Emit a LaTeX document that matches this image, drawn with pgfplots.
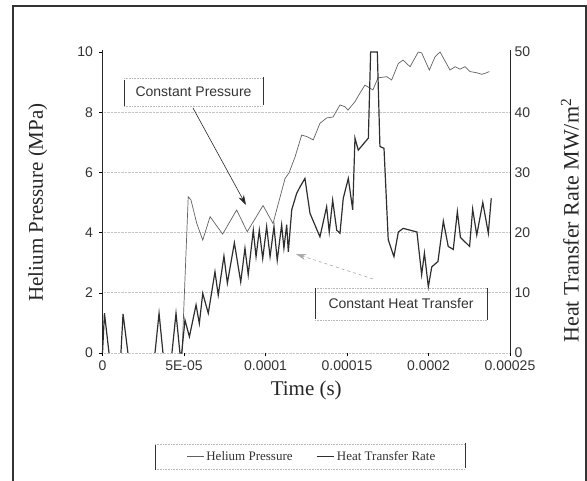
\documentclass[border=0pt]{standalone}
\usepackage{fontspec}
\setmainfont{Liberation Serif}
\newfontfamily\sansf{Liberation Sans}
\usepackage{pgfplots}
\pgfplotsset{compat=1.18}
\usetikzlibrary{arrows.meta}
\definecolor{pcol}{gray}{0.38}
\definecolor{hcol}{gray}{0.18}

\begin{document}
\begin{tikzpicture}[x=1pt,y=1pt]
\useasboundingbox (0,0) rectangle (587,481);
\draw[line width=1.2pt, gray!40!black] (13,475) rectangle (586,-20);
\begin{axis}[at={(102.5pt,128pt)}, anchor=south west, scale only axis,
  width=407.5pt, height=301pt,
  xmin=0, xmax=2.5e-4, ymin=0, ymax=10, clip=false,
  axis line style={draw=none},
  scaled x ticks=false,
  xtick={0,5e-5,1e-4,1.5e-4,2e-4,2.5e-4},
  xticklabels={0,5E-05,0.0001,0.00015,0.0002,0.00025},
  ytick={0,2,4,6,8}, extra y ticks={10}, extra y tick style={grid=none},
  ymajorgrids, grid style={densely dotted, gray!45, line width=0.6pt},
  tick style={black, line width=0.5pt}, major tick length=3pt, tick align=outside,
  xtick pos=bottom, ytick pos=left,
  tick label style={font=\sansf\fontsize{14}{14}\selectfont, text=black!80},
  /pgf/number format/assume math mode=true,
  xticklabel style={yshift=-1pt}, yticklabel style={xshift=-3pt},
  xlabel={Time (s)}, ylabel={Helium Pressure (MPa)},
  label style={font=\fontsize{21}{24}\selectfont, text=black!85},
  xlabel style={at={(axis description cs:0.5,-0.123)}, anchor=center},
  ylabel style={at={(axis description cs:-0.159,0.5)}, anchor=center}]
\draw[black!85, line width=0.9pt] (rel axis cs:0,0) -- (rel axis cs:0,1.005);
\draw[black!85, line width=0.9pt] (rel axis cs:1,0) -- (rel axis cs:1,1.005);
\addplot[pcol, line width=0.7pt] table {
4.88e-5 0
5.26e-5 5.19
5.43e-5 5.08
5.78e-5 4.31
6.15e-5 3.75
6.60e-5 4.53
7.37e-5 3.95
8.23e-5 4.75
8.88e-5 4.03
9.85e-5 4.90
10.46e-5 4.30
11.20e-5 5.80
11.44e-5 5.98
11.81e-5 6.51
12.22e-5 7.24
12.53e-5 7.19
12.93e-5 7.08
13.34e-5 7.63
13.75e-5 7.81
14.14e-5 7.84
14.57e-5 8.24
14.88e-5 8.18
15.06e-5 8.07
15.49e-5 8.35
15.80e-5 8.64
16.10e-5 8.90
16.59e-5 8.74
16.90e-5 9.14
17.44e-5 9.18
17.74e-5 9.07
18.15e-5 9.62
18.44e-5 9.73
18.87e-5 9.51
19.37e-5 10.0
19.58e-5 9.97
20.05e-5 9.40
20.40e-5 9.84
20.71e-5 10.0
21.32e-5 9.40
21.63e-5 9.51
21.93e-5 9.43
22.24e-5 9.51
22.55e-5 9.35
22.96e-5 9.31
23.26e-5 9.26
23.47e-5 9.29
23.73e-5 9.35
};
\end{axis}
\begin{axis}[at={(102.5pt,128pt)}, anchor=south west, scale only axis,
  width=407.5pt, height=301pt,
  xmin=0, xmax=2.5e-4, ymin=0, ymax=50, clip=false,
  unbounded coords=jump,
  axis line style={draw=none}, xtick=\empty,
  ytick={0,10,20,30,40,50}, ytick pos=right, yticklabel pos=right,
  tick style={draw=none},
  tick label style={font=\sansf\fontsize{14}{14}\selectfont, text=black!80},
  /pgf/number format/assume math mode=true,
  yticklabel style={xshift=1pt},
  ylabel={Heat Transfer Rate MW/m\textsuperscript{2}},
  label style={font=\fontsize{22}{25}\selectfont, text=black!85},
  ylabel style={at={(axis description cs:1.147,0.44)}, anchor=center},
  legend style={at={(axis description cs:0.514,-0.345)}, anchor=center, draw=none, fill=none,
    font=\fontsize{13}{15}\selectfont, text=black!80},
  legend columns=2, legend cell align=left,
  /tikz/every even column/.append style={column sep=22pt}]
\addlegendimage{pcol, line width=0.7pt}
\addlegendentry{Helium Pressure}
\addplot[hcol, line width=1.2pt] table {
0 0
0.12e-5 6.6
0.40e-5 0
0.8e-5 nan
1.13e-5 0
1.26e-5 6.5
1.56e-5 0
2.4e-5 nan
3.22e-5 0
3.47e-5 6.6
3.71e-5 0
4.0e-5 nan
4.26e-5 0
4.51e-5 6.6
4.75e-5 0
4.86e-5 0
5.06e-5 5.5
5.33e-5 2.7
5.74e-5 8.0
5.94e-5 4.9
6.15e-5 9.9
6.49e-5 6.6
6.90e-5 13.5
7.10e-5 9.6
7.45e-5 16.1
7.66e-5 11.6
8.09e-5 18.3
8.48e-5 11.8
8.74e-5 17.4
8.94e-5 13.0
9.25e-5 20.4
9.42e-5 16.0
9.62e-5 20.4
9.83e-5 15.7
10.07e-5 21.0
10.28e-5 16.0
10.52e-5 21.0
10.72e-5 15.4
10.99e-5 21.3
11.13e-5 17.4
11.30e-5 21.3
11.40e-5 16.8
11.61e-5 23.8
11.91e-5 26.5
12.12e-5 27.6
12.42e-5 29.0
12.73e-5 23.2
13.34e-5 19.3
13.75e-5 24.3
13.91e-5 20.1
14.12e-5 25.4
14.37e-5 20.4
14.57e-5 19.9
14.77e-5 25.7
15.08e-5 29.0
15.35e-5 23.8
15.49e-5 35.7
15.69e-5 33.7
16.31e-5 35.7
16.45e-5 50
16.86e-5 50
17.02e-5 34.3
17.27e-5 34.0
17.53e-5 18.8
17.88e-5 16.0
18.15e-5 20.1
18.45e-5 20.7
19.29e-5 20.1
19.58e-5 13.0
19.75e-5 16.6
19.99e-5 11.0
20.20e-5 14.3
20.58e-5 15.2
20.91e-5 21.9
21.21e-5 17.7
21.52e-5 17.2
21.77e-5 23.5
21.96e-5 19.2
22.52e-5 17.7
22.71e-5 23.9
22.96e-5 19.6
23.33e-5 25.0
23.67e-5 19.9
23.85e-5 25.7
};
\addlegendentry{Heat Transfer Rate}
\end{axis}
% annotation: Constant Pressure
\draw[densely dotted, gray!55, line width=0.6pt] (124,403) -- (263,403) (124,375) -- (263,375);
\draw[black!80, line width=0.8pt] (124,401) -- (124,375) (263,404) -- (263,376);
\node[font=\sansf\fontsize{14}{16}\selectfont, text=black!80] at (193.5,389) {Constant Pressure};
\draw[gray!30!black, line width=0.6pt, -{Stealth[length=10pt,width=6pt]}] (193,373) -- (246,276);
% annotation: Constant Heat Transfer
\draw[densely dotted, gray!55, line width=0.6pt] (315,193) -- (487,193) (315,161) -- (487,161);
\draw[black!80, line width=0.8pt] (315,193) -- (315,162) (487,193) -- (487,161);
\node[font=\sansf\fontsize{14}{16}\selectfont, text=black!80] at (401,177) {Constant Heat Transfer};
\draw[gray!70, line width=0.6pt, dashed, -{Stealth[length=10pt,width=6pt]}] (373,202) -- (296,227);
% legend frame
\draw[densely dotted, gray!55, line width=0.6pt] (155,37) -- (465,37) (155,12) -- (465,12);
\draw[black!80, line width=0.8pt] (155,36) -- (155,11) (465,38) -- (465,13);
\end{tikzpicture}
\end{document}
